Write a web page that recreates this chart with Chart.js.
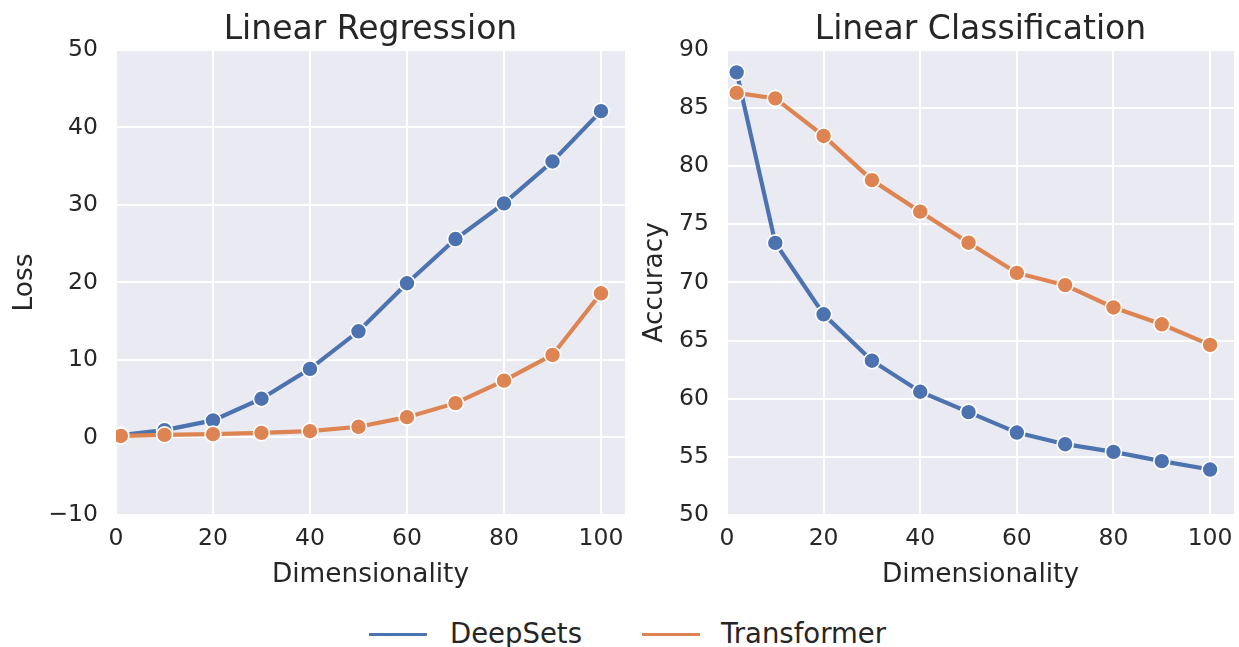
<!DOCTYPE html>
<html>
<head>
<meta charset="utf-8">
<script src="https://cdn.jsdelivr.net/npm/chart.js@4.4.1/dist/chart.umd.min.js"></script>
<style>
  html, body { margin: 0; padding: 0; background: #ffffff; width: 1239px; height: 647px; overflow: hidden; font-family: "DejaVu Sans", sans-serif; }
  .box { position: absolute; }
  #legend { position: absolute; left: 0; top: 612px; width: 1239px; height: 46px; }
  .lg-line { position: absolute; height: 3px; top: 21px; }
  .lg-text { position: absolute; top: 4px; font-size: 27.5px; color: #262626; line-height: 34px; white-space: nowrap; }
</style>
</head>
<body>
<div class="box" style="left:0px; top:0px; width:640px; height:600px;"><canvas id="c1"></canvas></div>
<div class="box" style="left:630px; top:0px; width:609px; height:600px;"><canvas id="c2"></canvas></div>
<div id="legend">
  <div class="lg-line" style="left:369px; width:58px; background:#4C72B0;"></div>
  <div class="lg-text" style="left:450px;">DeepSets</div>
  <div class="lg-line" style="left:642px; width:58px; background:#DD8452;"></div>
  <div class="lg-text" style="left:721px;">Transformer</div>
</div>
<script>
// ---- data ----
const dimsReg = [1, 10, 20, 30, 40, 50, 60, 70, 80, 90, 100];
const regDeepSets = [0.3, 0.95, 2.2, 5.0, 8.85, 13.7, 19.9, 25.6, 30.2, 35.6, 42.1];
const regTransformer = [0.2, 0.34, 0.43, 0.6, 0.82, 1.38, 2.62, 4.43, 7.33, 10.65, 18.6];

const dimsCls = [2, 10, 20, 30, 40, 50, 60, 70, 80, 90, 100];
const clsDeepSets = [88.07, 73.4, 67.26, 63.27, 60.6, 58.85, 57.09, 56.09, 55.43, 54.63, 53.91];
const clsTransformer = [86.3, 85.83, 82.6, 78.8, 76.09, 73.42, 70.82, 69.77, 67.85, 66.4, 64.63];

const xTicks = [0, 20, 40, 60, 80, 100];
const yTicksReg = [-10, 0, 10, 20, 30, 40, 50];
const yTicksCls = [50, 55, 60, 65, 70, 75, 80, 85, 90];

const seriesNames = ['DeepSets', 'Transformer'];
const COLORS = ['#4C72B0', '#DD8452'];
const TEXT = '#262626';
const FONT = '"DejaVu Sans", sans-serif';

const bgPlugin = {
  id: 'areaBg',
  beforeDraw(chart) {
    const a = chart.chartArea; const ctx = chart.ctx;
    ctx.save(); ctx.fillStyle = '#EAEAF2';
    ctx.fillRect(a.left, a.top, a.right - a.left, a.bottom - a.top);
    ctx.restore();
  }
};

function mk(xs, ys) { return xs.map((x, i) => ({ x: x, y: ys[i] })); }

function ds(label, data, color, order) {
  return {
    label: label, data: data, borderColor: color, backgroundColor: color,
    borderWidth: 4.2, pointRadius: 8, pointHoverRadius: 8, pointBorderColor: '#ffffff',
    pointBorderWidth: 1.6, pointBackgroundColor: color, tension: 0, order: order, fill: false
  };
}

function fmt(v) { return v < 0 ? '\u2212' + Math.abs(v) : String(v); }

function makeChart(id, title, yLabel, xs, s1, s2, yMin, yMax, yTicks, yAxisWidth, padRight) {
  return new Chart(document.getElementById(id), {
    type: 'line',
    data: { datasets: [ds(seriesNames[0], mk(xs, s1), COLORS[0], 2), ds(seriesNames[1], mk(xs, s2), COLORS[1], 1)] },
    plugins: [bgPlugin],
    options: {
      responsive: true, maintainAspectRatio: false, animation: false,
      layout: { autoPadding: false, padding: { left: 0, right: padRight, top: 0, bottom: 9 } },
      plugins: {
        legend: { display: false },
        tooltip: { enabled: false },
        title: {
          display: true, text: title, fullSize: false, color: TEXT,
          font: { family: FONT, size: 33, weight: 'normal', lineHeight: 1.1 },
          padding: { top: 12.6, bottom: 1 }
        }
      },
      scales: {
        x: {
          type: 'linear', min: 0, max: 104.95,
          afterBuildTicks: s => { s.ticks = xTicks.map(v => ({ value: v })); },
          afterFit: s => { s.height = 76; s.paddingLeft = 0; s.paddingRight = 0; },
          grid: { color: '#ffffff', lineWidth: 2, drawTicks: false },
          border: { display: false },
          ticks: { color: TEXT, padding: 10, maxRotation: 0, font: { family: FONT, size: 23.5 }, callback: v => fmt(v) },
          title: { display: true, text: 'Dimensionality', color: TEXT, padding: { top: 0, bottom: 0 }, font: { family: FONT, size: 26.4, lineHeight: 1.2 } }
        },
        y: {
          type: 'linear', min: yMin, max: yMax,
          afterBuildTicks: s => { s.ticks = yTicks.map(v => ({ value: v })); },
          afterFit: s => { s.width = yAxisWidth; s.paddingTop = 0; s.paddingBottom = 0; },
          grid: { color: '#ffffff', lineWidth: 2, drawTicks: false },
          border: { display: false },
          ticks: { color: TEXT, padding: 18, font: { family: FONT, size: 23.5 }, callback: v => fmt(v) },
          title: { display: true, text: yLabel, color: TEXT, padding: { top: 9, bottom: 0 }, font: { family: FONT, size: 26.4, lineHeight: 1.2 } }
        }
      }
    }
  });
}

makeChart('c1', 'Linear Regression', 'Loss', dimsReg, regDeepSets, regTransformer, -10, 50, yTicksReg, 116, 15);
makeChart('c2', 'Linear Classification', 'Accuracy', dimsCls, clsDeepSets, clsTransformer, 50, 90, yTicksCls, 97, 5);
</script>
</body>
</html>
